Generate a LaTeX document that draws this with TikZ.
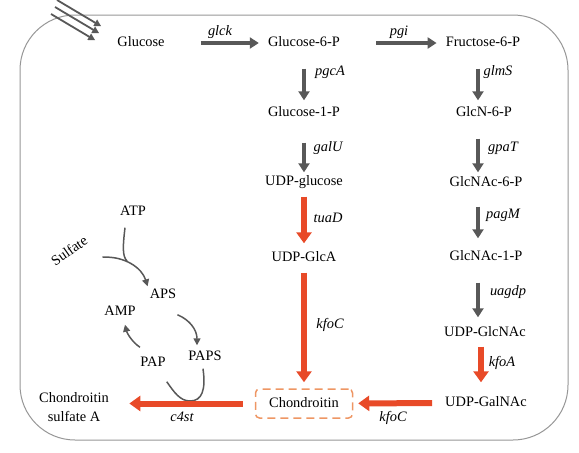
\documentclass[tikz,border=0pt]{standalone}
\usepackage{fontspec}
\setmainfont{Liberation Serif}
\usetikzlibrary{arrows.meta}
\definecolor{cellline}{RGB}{150,150,150}
\definecolor{grayarrow}{RGB}{88,88,88}
\definecolor{redarrow}{RGB}{232,74,40}
\definecolor{boxorange}{RGB}{238,150,100}
\tikzset{
  met/.style={inner sep=2pt, text height=10pt, text depth=3pt},
  gene/.style={font=\fontsize{14.4}{17}\selectfont\itshape, inner sep=1pt},
  grarr/.style={draw=grayarrow, line width=3.5pt, -{Triangle[length=9pt,width=11pt]}},
  hgrarr/.style={grarr, shorten <=34pt, shorten >=7pt},
  vgrarr/.style={grarr, shorten <=17pt, shorten >=4pt},
  redarr/.style={draw=redarrow, line width=6pt, -{Triangle[length=11pt,width=15pt]}, shorten <=6pt, shorten >=6pt},
  cycarr/.style={draw=grayarrow, line width=1.5pt, -{Triangle[length=7pt,width=7pt]}},
  inarr/.style={draw=grayarrow, line width=1.8pt, -{Triangle[length=7pt,width=7pt]}},
  chonbox/.style={draw=boxorange, line width=1.5pt, dash pattern=on 8pt off 5pt,
    rounded corners=4pt, minimum width=97pt, minimum height=29pt, inner sep=2pt},
}
\begin{document}
\begin{tikzpicture}[x=1pt, y=-1pt, font=\fontsize{14.4}{17}\selectfont]
  \useasboundingbox (0,0) rectangle (579,453);
  % cell
  \draw[cellline, line width=1pt, rounded corners=55pt] (20,15) rectangle (568,440);

  % metabolites
  \node[met] (glc) at (141,43) {Glucose};
  \node[met] (g6p) at (304,43) {Glucose-6-P};
  \node[met] (f6p) at (483,43) {Fructose-6-P};
  \node[met] (g1p) at (304,113) {Glucose-1-P};
  \node[met] (udpglc) at (304,182) {UDP-glucose};
  \node[met] (udpglca) at (304,258) {UDP-GlcA};
  \node[met] (glcn6p) at (484,113) {GlcN-6-P};
  \node[met] (glcnac6p) at (486,183) {GlcNAc-6-P};
  \node[met] (glcnac1p) at (486,257) {GlcNAc-1-P};
  \node[met] (udpglcnac) at (485,333) {UDP-GlcNAc};
  \node[met] (udpgalnac) at (486,403) {UDP-GalNAc};
  \node[chonbox, text height=10pt, text depth=3pt] (chon) at (304,403.5) {Chondroitin};
  \node[align=center, font=\fontsize{14.4}{19}\selectfont] (csa) at (74,407) {Chondroitin\\sulfate A};

  % sulfate cycle
  \node[met] (atp) at (133,212) {ATP};
  \node[met, rotate=35] (sulf) at (70,252) {Sulfate};
  \node[met] (aps) at (163,295) {APS};
  \node[met] (amp) at (120,312) {AMP};
  \node[met] (paps) at (205,357) {PAPS};
  \node[met] (pap) at (153,363) {PAP};

  % genes
  \node[gene] (glck) at (220,32) {glck};
  \node[gene] (pgi) at (399,32) {pgi};
  \node[gene] (pgcA) at (330,72) {pgcA};
  \node[gene] (glmS) at (498,72) {glmS};
  \node[gene] (galU) at (328,148) {galU};
  \node[gene] (gpaT) at (503,148) {gpaT};
  \node[gene] (tuaD) at (328,218) {tuaD};
  \node[gene] (pagM) at (503,215) {pagM};
  \node[gene] (uagdp) at (508,292) {uagdp};
  \node[gene] (kfoC) at (330,325) {kfoC};
  \node[gene] (kfoA) at (502,363) {kfoA};
  \node[gene] (kfoCb) at (393,418) {kfoC};
  \node[gene] (c4st) at (182,417) {c4st};

  % uptake
  \coordinate (in1) at (57,0);
  \coordinate (in2) at (55,7);
  \coordinate (in3) at (51,14);
  \draw[inarr] (in1) -- ([shift={(-14,-8)}]glc.north west);
  \draw[inarr] (in2) -- ([shift={(-16,-1)}]glc.north west);
  \draw[inarr] (in3) -- ([shift={(-20,6)}]glc.north west);

  % grey steps
  \draw[hgrarr] (glc) -- (g6p);
  \draw[hgrarr] (g6p) -- (f6p);
  \draw[vgrarr] (g6p) -- (g1p);
  \draw[vgrarr, shorten <=21pt, shorten >=1pt] (g1p) -- (udpglc);
  \draw[vgrarr] ([xshift=-5pt]f6p.south) -- ([xshift=-5pt]f6p.south |- glcn6p.north);
  \draw[vgrarr, shorten >=2pt] ([xshift=-5pt]f6p.south |- glcn6p.south) -- ([xshift=-5pt]f6p.south |- glcnac6p.north);
  \draw[vgrarr, shorten <=15pt, shorten >=10pt] ([xshift=-5pt]f6p.south |- glcnac6p.south) -- ([xshift=-5pt]f6p.south |- glcnac1p.north);
  \draw[vgrarr, shorten >=7pt] ([xshift=-5pt]f6p.south |- glcnac1p.south) -- ([xshift=-5pt]f6p.south |- udpglcnac.north);

  % sulfate activation
  \coordinate (join) at (127,261);
  \draw[grayarrow, line width=1.5pt] ([shift={(-8,7)}]atp.south) .. controls (123,245) and (122,256) .. (join);
  \draw[cycarr] ([shift={(9,11)}]sulf.south east) .. controls (125,256) and (142,268) .. (aps.north west);
  \draw[cycarr] ([shift={(-1,11)}]aps.south east) .. controls (190,320) and (197,330) .. ([shift={(-8,-3)}]paps.north);
  \draw[cycarr] ([shift={(-13,-7)}]pap.north) .. controls (132,342) and (127,333) .. ([shift={(5,4)}]amp.south);
  \draw[grayarrow, line width=1.5pt] ([shift={(-2,3)}]paps.south) .. controls (206,390) and (202,401) .. (190,401)
    .. controls (180,401) and (174,392) .. ([shift={(-1,10)}]pap.south east);

  % red steps
  \draw[redarr] (udpglc) -- (udpglca);
  \draw[redarr] (udpglca) -- (chon);
  \draw[redarr, shorten <=5pt, shorten >=12pt] ([xshift=-4pt]udpglcnac.south) -- ([xshift=-4pt]udpglcnac.south |- udpgalnac.north);
  \draw[redarr, shorten <=11pt, shorten >=5pt] (udpgalnac) -- (chon);
  \draw[redarr, shorten <=12pt, shorten >=17pt] (chon) -- (chon -| csa.east);
\end{tikzpicture}
\end{document}
